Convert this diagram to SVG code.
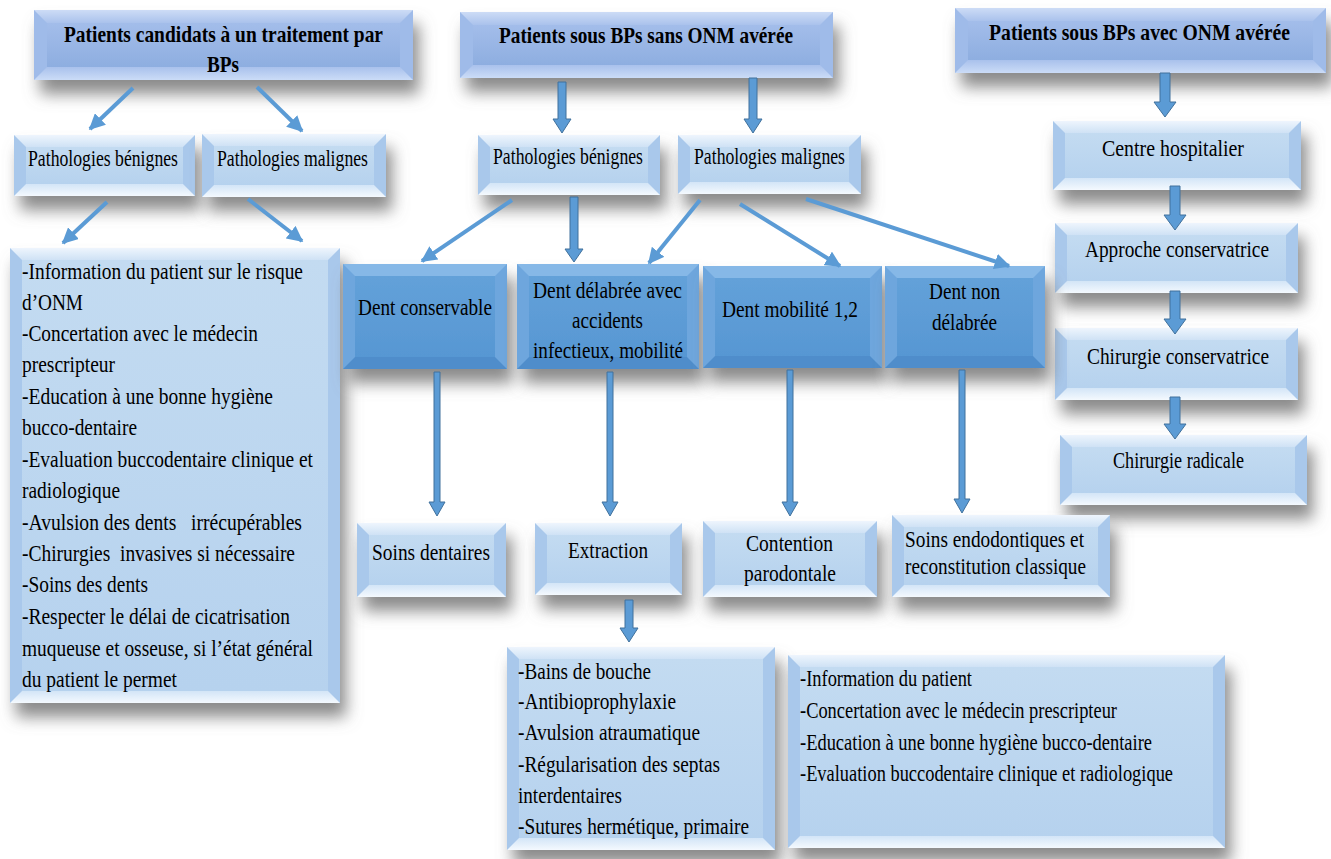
<svg xmlns="http://www.w3.org/2000/svg" width="1331" height="859" viewBox="0 0 1331 859">
<defs>
<filter id="sh" x="-15%" y="-20%" width="135%" height="175%">
<feDropShadow dx="6" dy="14" stdDeviation="8" flood-color="#6e6e6e" flood-opacity="0.8"/>
</filter>
<linearGradient id="gLface" x1="0" y1="0" x2="0" y2="1"><stop offset="0" stop-color="#c3dbf1"/><stop offset="1" stop-color="#b6d2ee"/></linearGradient>
<linearGradient id="gLtop" x1="0" y1="0" x2="0" y2="1"><stop offset="0" stop-color="#eef5fd"/><stop offset="1" stop-color="#cfe2f5"/></linearGradient>
<linearGradient id="gLbot" x1="0" y1="0" x2="0" y2="1"><stop offset="0" stop-color="#d3e5f7"/><stop offset="1" stop-color="#f4f9fe"/></linearGradient>
<linearGradient id="gTface" x1="0" y1="0" x2="0" y2="1"><stop offset="0" stop-color="#a3bdea"/><stop offset="1" stop-color="#8eaee0"/></linearGradient>
<linearGradient id="gTtop" x1="0" y1="0" x2="0" y2="1"><stop offset="0" stop-color="#cddcf6"/><stop offset="1" stop-color="#aac2ec"/></linearGradient>
<linearGradient id="gTbot" x1="0" y1="0" x2="0" y2="1"><stop offset="0" stop-color="#a9c1ec"/><stop offset="1" stop-color="#cbdcf7"/></linearGradient>
<linearGradient id="gDface" x1="0" y1="0" x2="0" y2="1"><stop offset="0" stop-color="#63a1d9"/><stop offset="1" stop-color="#5797d3"/></linearGradient>
<marker id="ah" viewBox="0 0 10 10" refX="9" refY="5" markerWidth="16" markerHeight="16" markerUnits="userSpaceOnUse" orient="auto">
<path d="M0,0 L10,5 L0,10 z" fill="#5b9bd5"/>
</marker>
</defs>
<style>
.sh{filter:url(#sh)}
.Ls{fill:#a9c8eb}.Lt{fill:url(#gLtop)}.Lb{fill:url(#gLbot)}.Lf{fill:url(#gLface)}
.Ts{fill:#9fbbe9}.Tt{fill:url(#gTtop)}.Tb{fill:url(#gTbot)}.Tf{fill:url(#gTface)}
.Ds{fill:#6ea6dd}.Dt{fill:#86b8e7}.Db{fill:#4f8dcb}.Df{fill:url(#gDface)}
text{font-family:"Liberation Serif","Times New Roman",serif;fill:#000;white-space:pre}
.t{font-size:23px}
.tb{font-size:23px;font-weight:bold}
.ln{stroke:#5b9bd5;stroke-width:4;fill:none;marker-end:url(#ah)}
.ba{fill:#5b9bd5;stroke:#41719c;stroke-width:1}
</style>

<g id="n-t1">
<g class="sh">
<rect class="Ts" x="34" y="10" width="379" height="70"/>
<polygon class="Tt" points="34,10 413,10 400,23 47,23"/>
<polygon class="Tb" points="34,80 413,80 400,67 47,67"/>
<rect class="Tf" x="47" y="23" width="353" height="44"/>
</g>
<text class="tb" x="64" y="42" textLength="319" lengthAdjust="spacingAndGlyphs">Patients candidats à un traitement par</text>
<text class="tb" x="207" y="72" textLength="32" lengthAdjust="spacingAndGlyphs">BPs</text>
</g>
<g id="n-t2">
<g class="sh">
<rect class="Ts" x="460" y="12" width="373" height="66"/>
<polygon class="Tt" points="460,12 833,12 820,25 473,25"/>
<polygon class="Tb" points="460,78 833,78 820,65 473,65"/>
<rect class="Tf" x="473" y="25" width="347" height="40"/>
</g>
<text class="tb" x="499" y="43" textLength="294" lengthAdjust="spacingAndGlyphs">Patients sous BPs sans ONM avérée</text>
</g>
<g id="n-t3">
<g class="sh">
<rect class="Ts" x="955" y="8" width="371" height="65"/>
<polygon class="Tt" points="955,8 1326,8 1313,21 968,21"/>
<polygon class="Tb" points="955,73 1326,73 1313,60 968,60"/>
<rect class="Tf" x="968" y="21" width="345" height="39"/>
</g>
<text class="tb" transform="translate(1139.5,40) scale(0.8,1)" x="0" y="0" text-anchor="middle" textLength="376" lengthAdjust="spacingAndGlyphs">Patients sous BPs avec ONM avérée</text>
</g>

<g id="n-pb1">
<g class="sh">
<rect class="Ls" x="14" y="135" width="181" height="61"/>
<polygon class="Lt" points="14,135 195,135 183,147 26,147"/>
<polygon class="Lb" points="14,196 195,196 183,184 26,184"/>
<rect class="Lf" x="26" y="147" width="157" height="37"/>
</g>
<text class="t" x="28" y="166" textLength="150" lengthAdjust="spacingAndGlyphs">Pathologies bénignes</text>
</g>
<g id="n-pm1">
<g class="sh">
<rect class="Ls" x="202" y="134" width="184" height="63"/>
<polygon class="Lt" points="202,134 386,134 374,146 214,146"/>
<polygon class="Lb" points="202,197 386,197 374,185 214,185"/>
<rect class="Lf" x="214" y="146" width="160" height="39"/>
</g>
<text class="t" x="217" y="166" textLength="151" lengthAdjust="spacingAndGlyphs">Pathologies malignes</text>
</g>
<g id="n-pb2">
<g class="sh">
<rect class="Ls" x="478" y="135" width="182" height="60"/>
<polygon class="Lt" points="478,135 660,135 648,147 490,147"/>
<polygon class="Lb" points="478,195 660,195 648,183 490,183"/>
<rect class="Lf" x="490" y="147" width="158" height="36"/>
</g>
<text class="t" x="493" y="164" textLength="150" lengthAdjust="spacingAndGlyphs">Pathologies bénignes</text>
</g>
<g id="n-pm2">
<g class="sh">
<rect class="Ls" x="678" y="135" width="183" height="59"/>
<polygon class="Lt" points="678,135 861,135 849,147 690,147"/>
<polygon class="Lb" points="678,194 861,194 849,182 690,182"/>
<rect class="Lf" x="690" y="147" width="159" height="35"/>
</g>
<text class="t" x="694" y="164" textLength="151" lengthAdjust="spacingAndGlyphs">Pathologies malignes</text>
</g>
<g id="n-ch">
<g class="sh">
<rect class="Ls" x="1053" y="121" width="248" height="69"/>
<polygon class="Lt" points="1053,121 1301,121 1289,133 1065,133"/>
<polygon class="Lb" points="1053,190 1301,190 1289,178 1065,178"/>
<rect class="Lf" x="1065" y="133" width="224" height="45"/>
</g>
<text class="t" x="1102" y="156" textLength="142" lengthAdjust="spacingAndGlyphs">Centre hospitalier</text>
</g>
<g id="n-ac">
<g class="sh">
<rect class="Ls" x="1055" y="223" width="243" height="70"/>
<polygon class="Lt" points="1055,223 1298,223 1286,235 1067,235"/>
<polygon class="Lb" points="1055,293 1298,293 1286,281 1067,281"/>
<rect class="Lf" x="1067" y="235" width="219" height="46"/>
</g>
<text class="t" x="1085" y="257" textLength="184" lengthAdjust="spacingAndGlyphs">Approche conservatrice</text>
</g>
<g id="n-cc">
<g class="sh">
<rect class="Ls" x="1055" y="328" width="243" height="72"/>
<polygon class="Lt" points="1055,328 1298,328 1286,340 1067,340"/>
<polygon class="Lb" points="1055,400 1298,400 1286,388 1067,388"/>
<rect class="Lf" x="1067" y="340" width="219" height="48"/>
</g>
<text class="t" x="1087" y="364" textLength="182" lengthAdjust="spacingAndGlyphs">Chirurgie conservatrice</text>
</g>
<g id="n-cr">
<g class="sh">
<rect class="Ls" x="1060" y="435" width="247" height="70"/>
<polygon class="Lt" points="1060,435 1307,435 1295,447 1072,447"/>
<polygon class="Lb" points="1060,505 1307,505 1295,493 1072,493"/>
<rect class="Lf" x="1072" y="447" width="223" height="46"/>
</g>
<text class="t" x="1113" y="468" textLength="131" lengthAdjust="spacingAndGlyphs">Chirurgie radicale</text>
</g>

<g id="n-big">
<g class="sh">
<rect class="Ls" x="10" y="248" width="330" height="455"/>
<polygon class="Lt" points="10,248 340,248 328,260 22,260"/>
<polygon class="Lb" points="10,703 340,703 328,691 22,691"/>
<rect class="Lf" x="22" y="260" width="306" height="431"/>
</g>
<text class="t" x="22" y="279" textLength="281" lengthAdjust="spacingAndGlyphs">-Information du patient sur le risque</text>
<text class="t" x="22" y="310" textLength="61" lengthAdjust="spacingAndGlyphs">d’ONM</text>
<text class="t" x="22" y="341" textLength="236" lengthAdjust="spacingAndGlyphs">-Concertation avec le médecin</text>
<text class="t" x="22" y="372" textLength="93" lengthAdjust="spacingAndGlyphs">prescripteur</text>
<text class="t" x="22" y="404" textLength="251" lengthAdjust="spacingAndGlyphs">-Education à une bonne hygiène</text>
<text class="t" x="22" y="435" textLength="115" lengthAdjust="spacingAndGlyphs">bucco-dentaire</text>
<text class="t" x="22" y="467" textLength="291" lengthAdjust="spacingAndGlyphs">-Evaluation buccodentaire clinique et</text>
<text class="t" x="22" y="498" textLength="98" lengthAdjust="spacingAndGlyphs">radiologique</text>
<text class="t" x="22" y="530" textLength="280" lengthAdjust="spacingAndGlyphs">-Avulsion des dents   irrécupérables</text>
<text class="t" x="22" y="561" textLength="273" lengthAdjust="spacingAndGlyphs">-Chirurgies  invasives si nécessaire</text>
<text class="t" x="22" y="592" textLength="126" lengthAdjust="spacingAndGlyphs">-Soins des dents</text>
<text class="t" x="22" y="624" textLength="268" lengthAdjust="spacingAndGlyphs">-Respecter le délai de cicatrisation</text>
<text class="t" x="22" y="656" textLength="291" lengthAdjust="spacingAndGlyphs">muqueuse et osseuse, si l’état général</text>
<text class="t" x="22" y="687" textLength="155" lengthAdjust="spacingAndGlyphs">du patient le permet</text>
</g>

<g id="n-d1">
<g class="sh">
<rect class="Ds" x="343" y="264" width="164" height="105"/>
<polygon class="Dt" points="343,264 507,264 495,276 355,276"/>
<polygon class="Db" points="343,369 507,369 495,357 355,357"/>
<rect class="Df" x="355" y="276" width="140" height="81"/>
</g>
<text class="t" x="358" y="315" textLength="134" lengthAdjust="spacingAndGlyphs">Dent conservable</text>
</g>
<g id="n-d2">
<g class="sh">
<rect class="Ds" x="517" y="264" width="182" height="105"/>
<polygon class="Dt" points="517,264 699,264 687,276 529,276"/>
<polygon class="Db" points="517,369 699,369 687,357 529,357"/>
<rect class="Df" x="529" y="276" width="158" height="81"/>
</g>
<text class="t" x="533" y="298" textLength="149" lengthAdjust="spacingAndGlyphs">Dent délabrée avec</text>
<text class="t" x="572" y="328" textLength="71" lengthAdjust="spacingAndGlyphs">accidents</text>
<text class="t" x="533" y="358" textLength="150" lengthAdjust="spacingAndGlyphs">infectieux, mobilité</text>
</g>
<g id="n-d3">
<g class="sh">
<rect class="Ds" x="703" y="266" width="179" height="102"/>
<polygon class="Dt" points="703,266 882,266 870,278 715,278"/>
<polygon class="Db" points="703,368 882,368 870,356 715,356"/>
<rect class="Df" x="715" y="278" width="155" height="78"/>
</g>
<text class="t" x="722" y="317" textLength="136" lengthAdjust="spacingAndGlyphs">Dent mobilité 1,2</text>
</g>
<g id="n-d4">
<g class="sh">
<rect class="Ds" x="885" y="266" width="160" height="102"/>
<polygon class="Dt" points="885,266 1045,266 1033,278 897,278"/>
<polygon class="Db" points="885,368 1045,368 1033,356 897,356"/>
<rect class="Df" x="897" y="278" width="136" height="78"/>
</g>
<text class="t" x="929" y="299" textLength="71" lengthAdjust="spacingAndGlyphs">Dent non</text>
<text class="t" x="932" y="330" textLength="65" lengthAdjust="spacingAndGlyphs">délabrée</text>
</g>

<g id="n-s1">
<g class="sh">
<rect class="Ls" x="357" y="523" width="149" height="74"/>
<polygon class="Lt" points="357,523 506,523 494,535 369,535"/>
<polygon class="Lb" points="357,597 506,597 494,585 369,585"/>
<rect class="Lf" x="369" y="535" width="125" height="50"/>
</g>
<text class="t" x="372" y="560" textLength="118" lengthAdjust="spacingAndGlyphs">Soins dentaires</text>
</g>
<g id="n-s2">
<g class="sh">
<rect class="Ls" x="535" y="523" width="147" height="72"/>
<polygon class="Lt" points="535,523 682,523 670,535 547,535"/>
<polygon class="Lb" points="535,595 682,595 670,583 547,583"/>
<rect class="Lf" x="547" y="535" width="123" height="48"/>
</g>
<text class="t" x="568" y="558" textLength="80" lengthAdjust="spacingAndGlyphs">Extraction</text>
</g>
<g id="n-s3">
<g class="sh">
<rect class="Ls" x="703" y="521" width="174" height="76"/>
<polygon class="Lt" points="703,521 877,521 865,533 715,533"/>
<polygon class="Lb" points="703,597 877,597 865,585 715,585"/>
<rect class="Lf" x="715" y="533" width="150" height="52"/>
</g>
<text class="t" x="746" y="551" textLength="87" lengthAdjust="spacingAndGlyphs">Contention</text>
<text class="t" x="744" y="581" textLength="92" lengthAdjust="spacingAndGlyphs">parodontale</text>
</g>
<g id="n-s4">
<g class="sh">
<rect class="Ls" x="892" y="515" width="218" height="82"/>
<polygon class="Lt" points="892,515 1110,515 1098,527 904,527"/>
<polygon class="Lb" points="892,597 1110,597 1098,585 904,585"/>
<rect class="Lf" x="904" y="527" width="194" height="58"/>
</g>
<text class="t" x="905" y="547" textLength="179" lengthAdjust="spacingAndGlyphs">Soins endodontiques et</text>
<text class="t" x="905" y="574" textLength="181" lengthAdjust="spacingAndGlyphs">reconstitution classique</text>
</g>

<g id="n-ext">
<g class="sh">
<rect class="Ls" x="507" y="647" width="268" height="203"/>
<polygon class="Lt" points="507,647 775,647 763,659 519,659"/>
<polygon class="Lb" points="507,850 775,850 763,838 519,838"/>
<rect class="Lf" x="519" y="659" width="244" height="179"/>
</g>
<text class="t" x="518" y="679" textLength="133" lengthAdjust="spacingAndGlyphs">-Bains de bouche</text>
<text class="t" x="518" y="709" textLength="158" lengthAdjust="spacingAndGlyphs">-Antibioprophylaxie</text>
<text class="t" x="518" y="740" textLength="182" lengthAdjust="spacingAndGlyphs">-Avulsion atraumatique</text>
<text class="t" x="518" y="772" textLength="202" lengthAdjust="spacingAndGlyphs">-Régularisation des septas</text>
<text class="t" x="518" y="803" textLength="104" lengthAdjust="spacingAndGlyphs">interdentaires</text>
<text class="t" x="518" y="834" textLength="231" lengthAdjust="spacingAndGlyphs">-Sutures hermétique, primaire</text>
</g>
<g id="n-info">
<g class="sh">
<rect class="Ls" x="788" y="655" width="437" height="193"/>
<polygon class="Lt" points="788,655 1225,655 1213,667 800,667"/>
<polygon class="Lb" points="788,848 1225,848 1213,836 800,836"/>
<rect class="Lf" x="800" y="667" width="413" height="169"/>
</g>
<text class="t" x="800" y="686" textLength="172" lengthAdjust="spacingAndGlyphs">-Information du patient</text>
<text class="t" x="800" y="718" textLength="317" lengthAdjust="spacingAndGlyphs">-Concertation avec le médecin prescripteur</text>
<text class="t" x="800" y="750" textLength="352" lengthAdjust="spacingAndGlyphs">-Education à une bonne hygiène bucco-dentaire</text>
<text class="t" x="800" y="781" textLength="373" lengthAdjust="spacingAndGlyphs">-Evaluation buccodentaire clinique et radiologique</text>
</g>

<g id="connectors">
<line class="ln" x1="133" y1="88" x2="90" y2="129"/>
<line class="ln" x1="257" y1="87" x2="302" y2="131"/>
<line class="ln" x1="107" y1="202" x2="63" y2="243"/>
<line class="ln" x1="248" y1="199" x2="302" y2="241"/>
<line class="ln" x1="512" y1="200" x2="422" y2="261"/>
<line class="ln" x1="700" y1="200" x2="649" y2="263"/>
<line class="ln" x1="740" y1="204" x2="840" y2="266"/>
<line class="ln" x1="806" y1="199" x2="1009" y2="266"/>
<polygon class="ba" points="558,82 566,82 566,119 571,119 562,133 553,119 558,119"/>
<polygon class="ba" points="749,78 757,78 757,119 762,119 753,133 744,119 749,119"/>
<polygon class="ba" points="1160,73 1170,73 1170,102 1176,102 1165,117 1154,102 1160,102"/>
<polygon class="ba" points="1170,186 1180,186 1180,215 1186,215 1175,230 1164,215 1170,215"/>
<polygon class="ba" points="1170,291 1180,291 1180,319 1186,319 1175,334 1164,319 1170,319"/>
<polygon class="ba" points="1170,397 1180,397 1180,424 1186,424 1175,439 1164,424 1170,424"/>
<polygon class="ba" points="570,197 578,197 578,249 583,249 574,262 565,249 570,249"/>
<polygon class="ba" points="434,372 440,372 440,502 445,502 437,516 429,502 434,502"/>
<polygon class="ba" points="607,372 613,372 613,502 618,502 610,516 602,502 607,502"/>
<polygon class="ba" points="787,370 793,370 793,502 798,502 790,516 782,502 787,502"/>
<polygon class="ba" points="959,370 965,370 965,499 970,499 962,513 954,499 959,499"/>
<polygon class="ba" points="625,600 633,600 633,628 638,628 629,642 620,628 625,628"/>
</g>
</svg>
